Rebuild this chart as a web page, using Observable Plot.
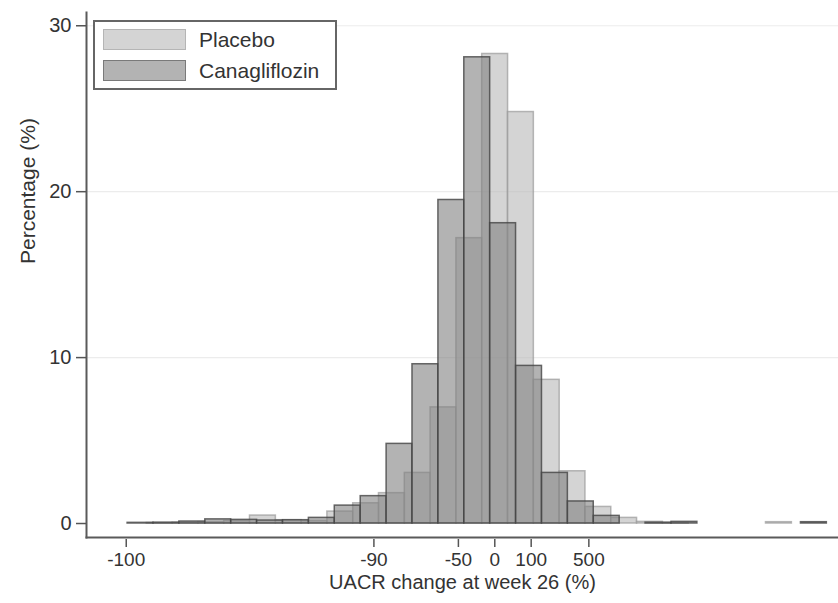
<!DOCTYPE html>
<html><head><meta charset="utf-8">
<script src="https://cdn.jsdelivr.net/npm/d3@7"></script>
<script src="https://cdn.jsdelivr.net/npm/@observablehq/plot@0.6"></script>
<style>
body{margin:0;background:#fff;font-family:"Liberation Sans",Arial,sans-serif;}
#wrap{position:relative;width:838px;height:603px;}
#legend{position:absolute;left:93px;top:20px;width:244px;height:70px;border:2px solid #666;background:#fff;box-sizing:border-box;}
#legend .sw{position:absolute;left:8px;width:83px;height:21px;box-sizing:border-box;}
#legend .lb{position:absolute;left:104px;font-size:21px;line-height:22px;color:#333;white-space:nowrap;}
</style></head><body><div id="wrap"></div>
<script>
const seriesNames = ["Placebo", "Canagliflozin"];
const binWidth = 0.493; // log-ratio units
const placeboLower = [-6.629,-6.137,-5.646,-5.154,-4.663,-4.171,-3.680,-3.189,-2.697,-2.206,-1.714,-1.223,-0.731,-0.240,0.251,0.743,1.234,1.726,2.217,2.709,3.200,5.166];
const placeboPct   = [0.03,0.05,0.08,0.15,0.48,0.20,0.15,0.72,1.22,1.83,3.05,7.0,17.2,28.3,24.8,8.66,3.15,1.0,0.34,0.10,0.03,0.08];
const canaLower = [-6.994,-6.501,-6.008,-5.514,-5.021,-4.528,-4.034,-3.541,-3.048,-2.554,-2.061,-1.568,-1.074,-0.581,-0.088,0.406,0.899,1.392,1.886,2.872,3.366,5.832];
const canaPct   = [0.04,0.05,0.12,0.25,0.22,0.18,0.20,0.34,1.08,1.65,4.8,9.6,19.5,28.1,18.1,9.5,3.05,1.33,0.46,0.05,0.10,0.08];
const tickLabels = [-100, -90, -50, 0, 100, 500];
const tickPos = tickLabels.map(p => p === -100 ? -7.02 : Math.log(1 + p / 100));
const yTicks = [0, 10, 20, 30];
const xTitle = "UACR change at week 26 (%)";
const yTitle = "Percentage (%)";

const labelMap = new Map(tickPos.map((v, i) => [v, String(tickLabels[i])]));
const placebo = placeboLower.map((x, i) => ({x1: x, x2: x + binWidth, pct: placeboPct[i]}));
const cana = canaLower.map((x, i) => ({x1: x, x2: x + binWidth, pct: canaPct[i]}));

const font = '"Liberation Sans", Arial, sans-serif';
const plot = Plot.plot({
  width: 838, height: 603,
  marginLeft: 86, marginRight: 0, marginTop: 12, marginBottom: 66,
  style: {fontFamily: font, fontSize: "20px", color: "#333", background: "transparent"},
  x: {domain: [-7.777, 6.547]},
  y: {domain: [-0.843, 30.8]},
  marks: [
    Plot.ruleY(yTicks.slice(1), {stroke: "#ececec", strokeWidth: 1.2}),
    Plot.rect(placebo, {x1: "x1", x2: "x2", y1: d => 0, y2: "pct", fill: "#bdbdbd", fillOpacity: 0.65, stroke: "#9a9a9a", strokeOpacity: 0.7, strokeWidth: 1.5}),
    Plot.rect(cana, {x1: "x1", x2: "x2", y1: d => 0, y2: "pct", fill: "#808080", fillOpacity: 0.6, stroke: "#444", strokeOpacity: 0.8, strokeWidth: 1.5}),
    Plot.frame({anchor: "left", stroke: "#5a5a5a", strokeWidth: 2}),
    Plot.frame({anchor: "bottom", stroke: "#5a5a5a", strokeWidth: 2}),
    Plot.axisX({ticks: tickPos, tickFormat: d => labelMap.get(d), tickSize: 8, dy: 2, tickPadding: 5, fontSize: 19, label: null, stroke: "#555", strokeWidth: 1.5}),
    Plot.axisY({ticks: yTicks, tickSize: 10, tickPadding: 5, fontSize: 20, label: null, stroke: "#555", strokeWidth: 1.5}),
    Plot.text([xTitle], {frameAnchor: "bottom", lineAnchor: "top", dy: 37, fontSize: 20, fill: "#333"}),
    Plot.text([yTitle], {frameAnchor: "left", rotate: -90, dx: -58, dy: -11, fontSize: 21, fill: "#333"})
  ]
});
const wrap = document.getElementById("wrap");
wrap.appendChild(plot);

const legend = document.createElement("div");
legend.id = "legend";
const swStyles = [
  {bg: "#d4d4d4", border: "#b5b5b5"},
  {bg: "#b3b3b3", border: "#7a7a7a"}
];
seriesNames.forEach((name, i) => {
  const sw = document.createElement("div");
  sw.className = "sw";
  sw.style.top = (7 + i * 31) + "px";
  sw.style.background = swStyles[i].bg;
  sw.style.border = "1.5px solid " + swStyles[i].border;
  legend.appendChild(sw);
  const lb = document.createElement("div");
  lb.className = "lb";
  lb.style.top = (7 + i * 31) + "px";
  lb.textContent = name;
  legend.appendChild(lb);
});
wrap.appendChild(legend);
</script>
</body></html>
